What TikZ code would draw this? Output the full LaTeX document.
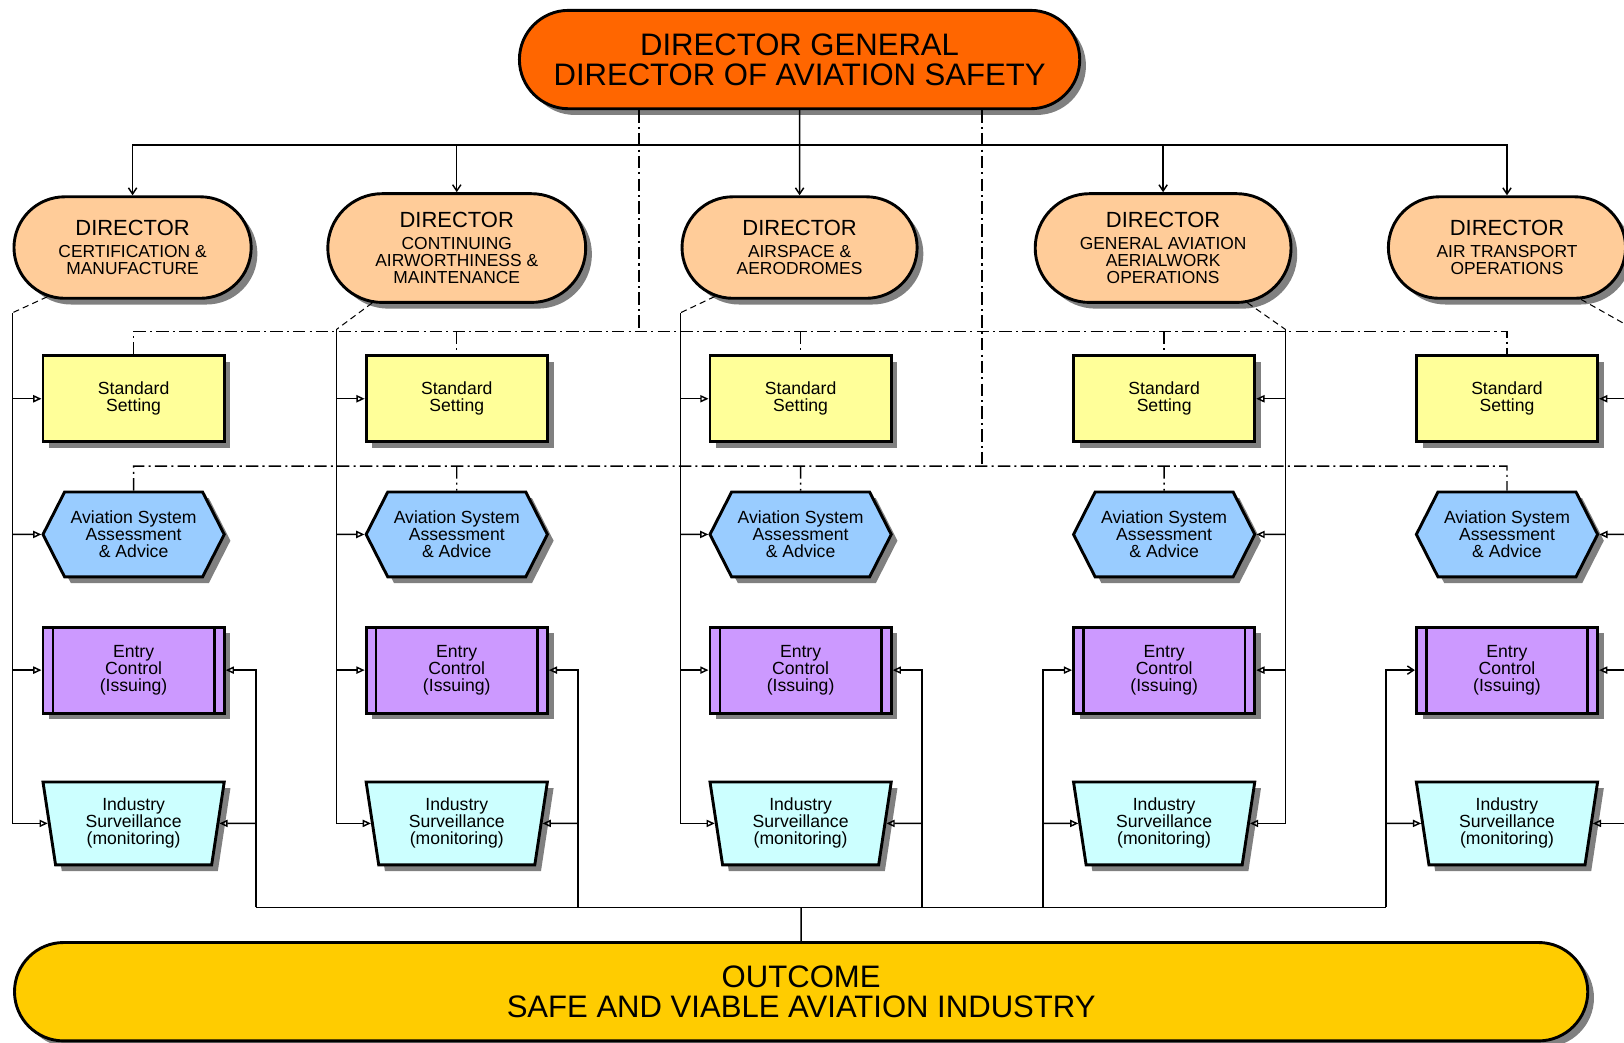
\documentclass[tikz,border=0pt]{standalone}
\usepackage{fontspec}
\setmainfont{Liberation Sans}
\usetikzlibrary{arrows.meta,shapes.misc,shapes.geometric,shapes.symbols,shadows}
\definecolor{dgorange}{HTML}{FF6600}
\definecolor{dirpeach}{HTML}{FFCC99}
\definecolor{stdyellow}{HTML}{FFFF99}
\definecolor{hexblue}{HTML}{99CCFF}
\definecolor{entryviolet}{HTML}{CC99FF}
\definecolor{survcyan}{HTML}{CCFFFF}
\definecolor{outgold}{HTML}{FFCC00}
\newcommand{\dirtitle}{{\fontsize{10.6}{8.2}\selectfont DIRECTOR}\\[2.3pt]}

\begin{document}
\begin{tikzpicture}[x=0.5pt,y=-0.5pt,line width=0.7pt,>={Triangle[open,length=4pt,width=3.5pt]},
	chart box/.style={draw,line width=1.4pt,align=center,inner sep=1pt,drop shadow={shadow xshift=3pt,shadow yshift=-3pt,fill=black!50,opacity=1},font=\fontsize{8.5}{8.2}\selectfont},
	top node/.style={chart box,rounded rectangle,minimum height=47.5pt,font=\fontsize{15}{14.5}\selectfont},
	dir node/.style={chart box,rounded rectangle,fill=dirpeach,minimum width=116.5pt,minimum height=49pt,font=\fontsize{8.4}{8.2}\selectfont},
	wide dir/.style={minimum width=126.5pt,minimum height=52.5pt},
	std node/.style={chart box,rectangle,fill=stdyellow,minimum width=87.5pt,minimum height=41.5pt},
	hex node/.style={chart box,signal,signal to=west and east,signal pointer angle=126,fill=hexblue,minimum width=87.5pt,minimum height=41pt},
	entry node/.style={chart box,rectangle,fill=entryviolet,minimum width=87.5pt,minimum height=41.5pt,
		path picture={\draw[line width=1.2pt] ([xshift=4.8pt]path picture bounding box.north west) -- ([xshift=4.8pt]path picture bounding box.south west)
			([xshift=-4.8pt]path picture bounding box.north east) -- ([xshift=-4.8pt]path picture bounding box.south east);}},
	surv node/.style={chart box,trapezium,shape border rotate=180,trapezium angle=77,trapezium stretches body=true,fill=survcyan,minimum width=87.5pt,minimum height=40pt},
	dd line/.style={dash pattern=on 6pt off 2pt on 1pt off 2pt},
	link/.style={densely dashed,line width=0.5pt},
	barb/.style={-{Straight Barb[length=3pt,width=4pt]}}]
	\useasboundingbox (0,0) rectangle (1568,1007);
	\clip (0,0) rectangle (1568,1007);

	\node[top node,fill=dgorange,minimum width=272.5pt] (0) at (772,57.5) {DIRECTOR GENERAL\\DIRECTOR OF AVIATION SAFETY};
	\node[dir node] (1) at (128,239) {\dirtitle CERTIFICATION \&\\MANUFACTURE};
	\node[dir node,wide dir] (2) at (441,239.5) {\dirtitle CONTINUING\\AIRWORTHINESS \&\\MAINTENANCE};
	\node[dir node,minimum width=115.5pt] (3) at (772,239) {\dirtitle AIRSPACE \&\\AERODROMES};
	\node[dir node,wide dir,minimum width=125.5pt] (4) at (1123,239.5) {\dirtitle GENERAL AVIATION\\AERIALWORK\\OPERATIONS};
	\node[dir node] (5) at (1455,239) {\dirtitle AIR TRANSPORT\\OPERATIONS};
	\node[top node,fill=outgold,minimum width=761.5pt] (6) at (773.5,957.5) {OUTCOME\\SAFE AND VIABLE AVIATION INDUSTRY};

	\foreach \i/\x in {1/129,2/441,3/773,4/1124,5/1455} {
		\node[std node] (s\i) at (\x,385) {Standard\\Setting};
		\node[hex node] (a\i) at (\x,516) {Aviation System\\Assessment\\\& Advice};
		\node[entry node] (e\i) at (\x,647) {Entry\\Control\\(Issuing)};
		\node[surv node] (m\i) at (\x,795) {Industry\\Surveillance\\(monitoring)};
	}

	\coordinate (bus) at (772,140);
	\coordinate (dd1) at (617,320);
	\coordinate (dd2) at (948,450);
	\coordinate (v1) at (12,302);
	\coordinate (v2) at (325,318);
	\coordinate (v3) at (657,302);
	\coordinate (v4) at (1241,318);
	\coordinate (v5) at (1578,318);
	\coordinate (u1) at (247,876);
	\coordinate (u2) at (558,876);
	\coordinate (u3) at (890,876);
	\coordinate (u4) at (1007,876);
	\coordinate (u5) at (1338,876);

	% line of command
	\draw[barb] (0) -- (3);
	\foreach \i in {1,2,4,5}
		\draw[barb] (bus) -| (\i);

	% coordination
	\draw[dd line] (dd1|-0.south) -- (dd1);
	\draw[dd line] (dd2|-0.south) -- (dd2);
	\draw[dd line] (s1) |- (s5|-dd1) -- (s5);
	\draw[dd line] (a1) |- (a5|-dd2) -- (a5);
	\foreach \i in {2,3,4} {
		\draw[dd line] (s\i|-dd1) -- (s\i);
		\draw[dd line] (a\i|-dd2) -- (a\i);
	}

	% directors to their functions
	\foreach \i/\a in {1/210,2/213,3/210,4/327,5/325}
		\draw[link] (\i.\a) -- (v\i);
	\foreach \i in {1,...,5} {
		\draw[->] (v\i) |- (m\i);
		\draw[->] (v\i|-s\i) -- (s\i);
		\draw[->] (v\i|-a\i) -- (a\i);
		\draw[->] (v\i|-e\i) -- (e\i);
		\draw[->] (u\i|-m\i) -- (m\i);
	}

	% outcome
	\foreach \i in {1,...,4}
		\draw[->] (u\i) |- (e\i);
	\draw[barb] (u5) |- (e5);
	\draw (u1) -- (u5);
	\draw (6|-u1) -- (6);
\end{tikzpicture}
\end{document}
